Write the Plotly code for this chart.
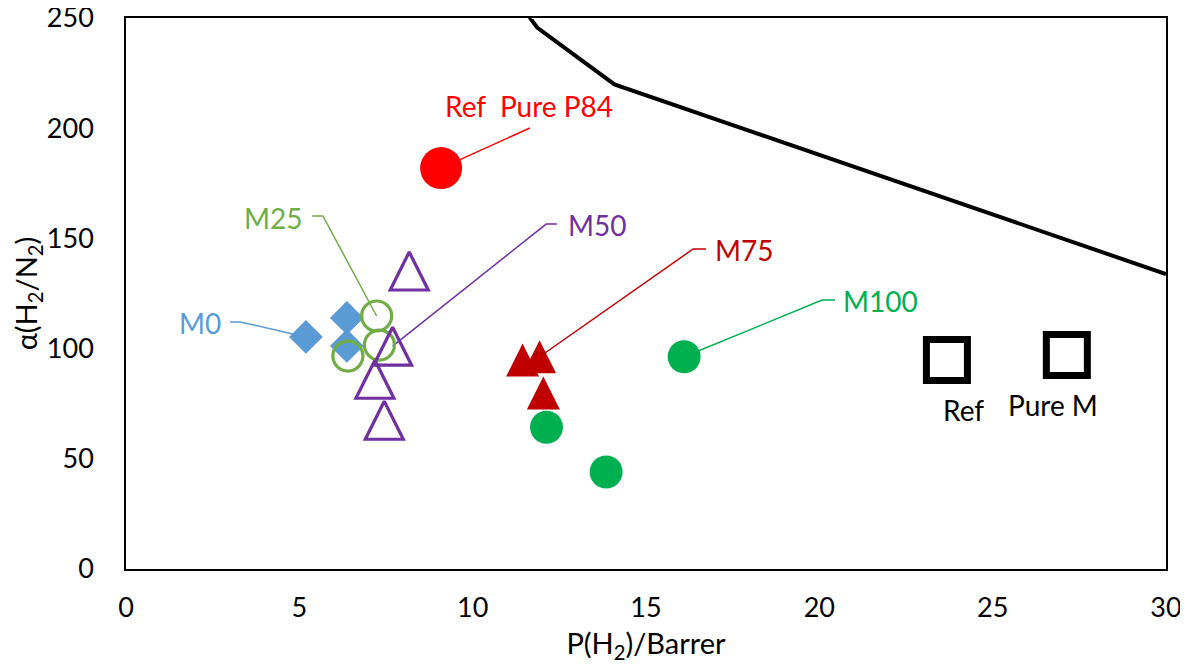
import plotly.graph_objects as go

# ---- data ----
m0_x = [5.19, 6.37, 6.37]
m0_y = [105.3, 113.9, 101.2]
m25_x = [7.23, 7.31, 6.40]
m25_y = [114.8, 101.6, 96.6]
m50_x = [8.17, 7.69, 7.18, 7.45]
m50_y = [135.2, 101.1, 86.1, 67.5]
m75_x = [11.44, 11.93, 12.04]
m75_y = [94.8, 96.3, 79.8]
m100_x = [16.10, 12.13, 13.85]
m100_y = [96.3, 64.3, 44.0]
p84_x = [9.09]
p84_y = [181.9]
ref_x = [23.68, 27.14]
ref_y = [94.8, 97.1]
ref_names = ["Ref", "Pure M"]
bound_x = [11.55, 11.68, 11.87, 14.09, 30.0]
bound_y = [253.0, 249.5, 245.5, 219.9, 133.8]

x_ticks = [0, 5, 10, 15, 20, 25, 30]
y_ticks = [0, 50, 100, 150, 200, 250]

FONT = "Lato, Carlito, Calibri, sans-serif"

# label layout: (text, colour, label centre, elbow points, target point)
labels = [
    ("M0", "#5B9BD5", (2.13, 111.6), [(3.0, 112.1), (3.29, 112.1)], (m0_x, m0_y, 0)),
    ("M25", "#70AD47", (4.24, 159.3), [(5.37, 160.2), (5.68, 160.2)], (m25_x, m25_y, 0)),
    ("M50", "#7030A0", (13.59, 156.1), [(12.43, 156.5), (12.12, 156.5)], (m50_x, m50_y, 1)),
    ("M75", "#C00000", (17.83, 144.7), [(16.73, 145.2), (16.36, 145.2)], (m75_x, m75_y, 1)),
    ("M100", "#00B050", (21.75, 121.6), [(20.45, 122.0), (20.08, 122.0)], (m100_x, m100_y, 0)),
    ("Ref\u00a0\u00a0Pure P84", "#FF0000", (11.62, 210.1), [(11.65, 200.1)], (p84_x, p84_y, 0)),
]

fig = go.Figure()

# leader lines (beneath markers)
for text, col, pos, elbow, (xs, ys, i) in labels:
    lx = [p[0] for p in elbow] + [xs[i]]
    ly = [p[1] for p in elbow] + [ys[i]]
    fig.add_trace(go.Scatter(x=lx, y=ly, mode="lines", line=dict(color=col, width=1.5),
                             hoverinfo="skip", showlegend=False))

# upper bound line
fig.add_trace(go.Scatter(x=bound_x, y=bound_y, mode="lines",
                         line=dict(color="black", width=4), showlegend=False))

fig.add_trace(go.Scatter(x=m0_x, y=m0_y, mode="markers", name="M0",
                         marker=dict(symbol="diamond", size=26, color="#5B9BD5", line=dict(width=0))))
fig.add_trace(go.Scatter(x=m25_x, y=m25_y, mode="markers", name="M25",
                         marker=dict(symbol="circle-open", size=30, color="#70AD47", line=dict(width=3.2))))
fig.add_trace(go.Scatter(x=m50_x, y=m50_y, mode="markers", name="M50",
                         marker=dict(symbol="arrow-down-open", angle=180, size=38, standoff=19,
                                     color="#7030A0", line=dict(width=3.2, color="#7030A0"))))
fig.add_trace(go.Scatter(x=m75_x, y=m75_y, mode="markers", name="M75",
                         marker=dict(symbol="arrow-down", angle=180, size=33, standoff=16.5,
                                     color="#C00000", line=dict(width=0))))
fig.add_trace(go.Scatter(x=m100_x, y=m100_y, mode="markers", name="M100",
                         marker=dict(symbol="circle", size=33, color="#00B050", line=dict(width=0))))
fig.add_trace(go.Scatter(x=p84_x, y=p84_y, mode="markers", name="P84",
                         marker=dict(symbol="circle", size=42, color="#FF0000", line=dict(width=0))))
fig.add_trace(go.Scatter(x=ref_x, y=ref_y, mode="markers", name="Ref",
                         marker=dict(symbol="square-open", size=41, color="black", line=dict(width=7))))

annotations = []
for text, col, pos, elbow, _ in labels:
    annotations.append(dict(x=pos[0], y=pos[1], xref="x", yref="y", text=text, showarrow=False,
                            font=dict(family=FONT, size=28, color=col)))
for xv, yv, name in zip(ref_x, ref_y, ref_names):
    annotations.append(dict(x=xv, y=yv, xref="x", yref="y", text=name, showarrow=False,
                            yshift=-50, xshift=17 if name == "Ref" else -14,
                            font=dict(family=FONT, size=28, color="black")))

fig.update_layout(
    width=1180, height=656,
    margin=dict(l=118, r=22, t=10, b=95),
    paper_bgcolor="white", plot_bgcolor="white",
    showlegend=False,
    font=dict(family=FONT, size=27, color="black"),
    annotations=annotations,
    xaxis=dict(range=[0, 30], tickvals=x_ticks, showgrid=False, zeroline=False,
               showline=True, mirror=True, linecolor="black", linewidth=1.5,
               ticks="outside", ticklen=14, tickcolor="rgba(0,0,0,0)", automargin=False,
               ticklabeloverflow="allow",
               tickfont=dict(family=FONT, size=27, color="black"),
               title=dict(text="P(H<sub>2</sub>)/Barrer", standoff=16,
                          font=dict(family=FONT, size=29, color="black"))),
    yaxis=dict(range=[0, 250], tickvals=y_ticks, showgrid=False, zeroline=False,
               showline=True, mirror=True, linecolor="black", linewidth=1.5,
               ticks="outside", ticklen=25, tickcolor="rgba(0,0,0,0)", automargin=False,
               ticklabeloverflow="allow",
               tickfont=dict(family=FONT, size=27, color="black"),
               title=dict(text="α(H<sub>2</sub>/N<sub>2</sub>)", standoff=8,
                          font=dict(family=FONT, size=29, color="black"))),
)

fig.write_html("out.html")
